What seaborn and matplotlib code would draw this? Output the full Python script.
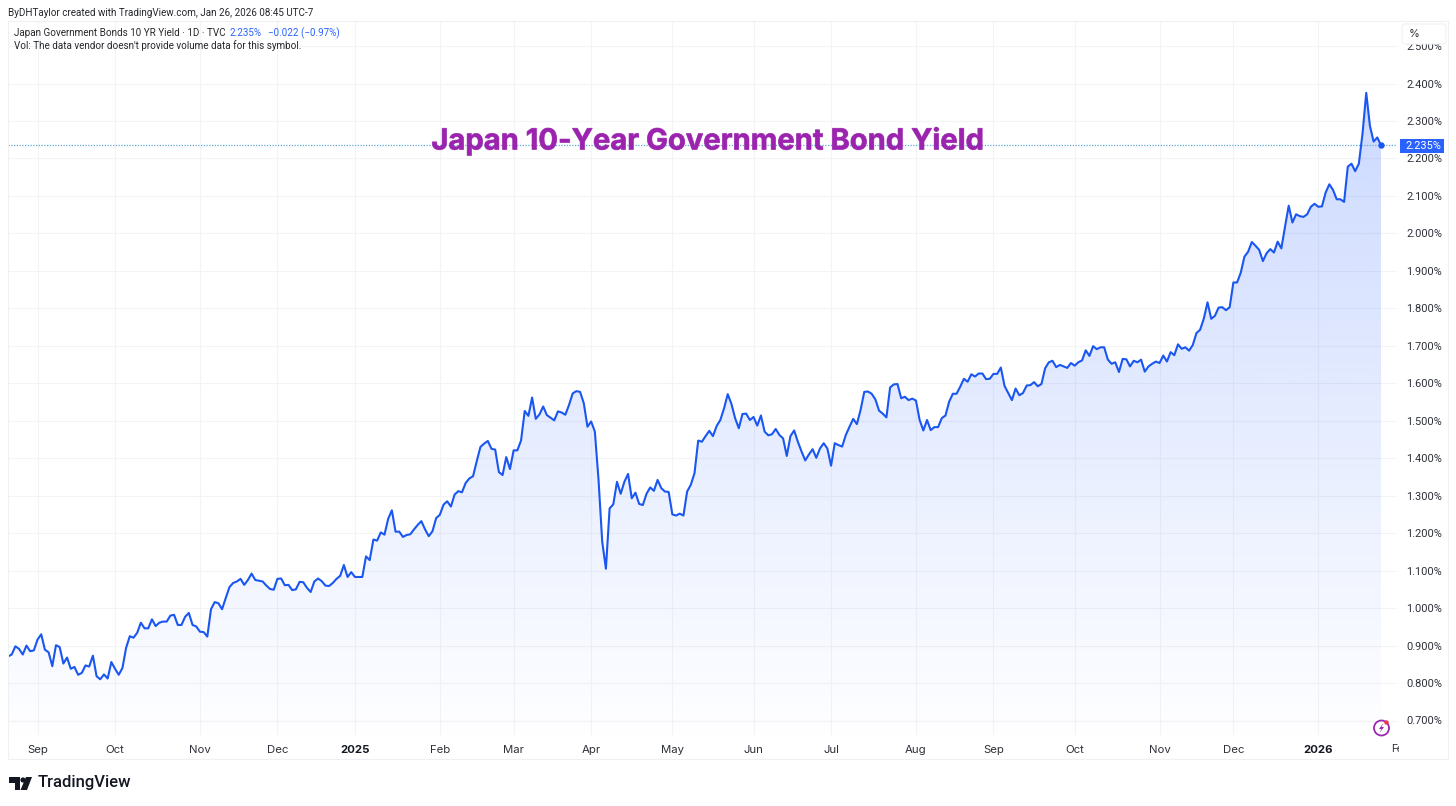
import numpy as np
import pandas as pd
import matplotlib
matplotlib.use("Agg")
import matplotlib.pyplot as plt
import matplotlib.patheffects as pe
from matplotlib.patches import Rectangle, Polygon, Circle, FancyBboxPatch
import seaborn as sns

# yield per trading day, one list per month
aug24 = [.871, .876, .898, .891, .876, .900, .885, .887]
sep24 = [.916, .930, .889, .882, .845, .901, .896, .852, .868, .838, .843, .822, .827, .847, .844, .873, .818, .810, .823, .812, .856]
oct24 = [.838, .822, .840, .894, .925, .921, .934, .961, .946, .946, .970, .952, .961, .964, .964, .980, .982, .955, .955, .977, .987, .955, .951]
nov24 = [.937, .936, .924, .997, 1.016, 1.013, .997, 1.027, 1.056, 1.067, 1.071, 1.078, 1.062, 1.075, 1.092, 1.075, 1.073, 1.071, 1.060, 1.051, 1.049]
dec24 = [1.078, 1.079, 1.061, 1.062, 1.048, 1.050, 1.070, 1.069, 1.054, 1.043, 1.071, 1.079, 1.072, 1.060, 1.059, 1.067, 1.078, 1.086, 1.115, 1.083, 1.096]
jan25 = [1.083, 1.083, 1.083, 1.138, 1.128, 1.183, 1.180, 1.202, 1.196, 1.238, 1.261, 1.204, 1.204, 1.190, 1.195, 1.197, 1.210, 1.222, 1.232, 1.210, 1.192, 1.205, 1.240]
feb25 = [1.249, 1.276, 1.285, 1.271, 1.303, 1.312, 1.309, 1.334, 1.346, 1.352, 1.392, 1.430, 1.439, 1.446, 1.425, 1.423, 1.363, 1.355, 1.403, 1.371]
mar25 = [1.421, 1.421, 1.447, 1.526, 1.513, 1.562, 1.505, 1.517, 1.538, 1.515, 1.508, 1.501, 1.525, 1.522, 1.516, 1.542, 1.573, 1.579, 1.577, 1.547, 1.484]
apr25 = [1.498, 1.471, 1.342, 1.177, 1.105, 1.266, 1.277, 1.337, 1.305, 1.337, 1.358, 1.293, 1.308, 1.278, 1.275, 1.305, 1.322, 1.313, 1.342, 1.320, 1.311, 1.310]
may25 = [1.250, 1.247, 1.252, 1.247, 1.311, 1.329, 1.360, 1.447, 1.444, 1.459, 1.473, 1.459, 1.486, 1.502, 1.533, 1.571, 1.545, 1.507, 1.480, 1.518, 1.519, 1.502]
jun25 = [1.510, 1.487, 1.514, 1.471, 1.461, 1.464, 1.478, 1.462, 1.453, 1.406, 1.459, 1.474, 1.444, 1.418, 1.394, 1.410, 1.424, 1.401, 1.426, 1.440, 1.426]
jul25 = [1.380, 1.440, 1.435, 1.431, 1.462, 1.484, 1.505, 1.491, 1.529, 1.577, 1.578, 1.572, 1.557, 1.527, 1.519, 1.509, 1.589, 1.597, 1.598, 1.560, 1.564, 1.555, 1.559]
aug25 = [1.554, 1.502, 1.474, 1.502, 1.475, 1.483, 1.483, 1.507, 1.514, 1.551, 1.572, 1.572, 1.591, 1.612, 1.604, 1.624, 1.618, 1.626, 1.626, 1.611, 1.612]
sep25 = [1.625, 1.625, 1.642, 1.593, 1.574, 1.555, 1.586, 1.568, 1.574, 1.594, 1.595, 1.603, 1.592, 1.598, 1.640, 1.656, 1.660, 1.643, 1.649, 1.645, 1.641, 1.654]
oct25 = [1.647, 1.656, 1.661, 1.688, 1.673, 1.699, 1.691, 1.696, 1.696, 1.663, 1.652, 1.656, 1.630, 1.665, 1.664, 1.645, 1.660, 1.656, 1.663, 1.631, 1.645, 1.652, 1.658]
nov25 = [1.654, 1.674, 1.658, 1.683, 1.675, 1.704, 1.692, 1.696, 1.687, 1.702, 1.734, 1.743, 1.773, 1.816, 1.772, 1.780, 1.802, 1.803, 1.795, 1.803]
dec25 = [1.869, 1.869, 1.895, 1.938, 1.951, 1.977, 1.967, 1.956, 1.926, 1.947, 1.958, 1.949, 1.978, 1.960, 2.018, 2.074, 2.029, 2.051, 2.046, 2.044, 2.051, 2.071, 2.079]
jan26 = [2.071, 2.072, 2.109, 2.131, 2.116, 2.091, 2.091, 2.084, 2.178, 2.186, 2.166, 2.186, 2.267, 2.375, 2.287, 2.245, 2.256, 2.235]

months = [aug24, sep24, oct24, nov24, dec24, jan25, feb25, mar25, apr25, may25, jun25, jul25, aug25, sep25, oct25, nov25, dec25, jan26]
month_labels = ["Sep", "Oct", "Nov", "Dec", "2025", "Feb", "Mar", "Apr", "May", "Jun", "Jul", "Aug", "Sep", "Oct", "Nov", "Dec", "2026"]
y_ticks = [0.7, 0.8, 0.9, 1.0, 1.1, 1.2, 1.3, 1.4, 1.5, 1.6, 1.7, 1.8, 1.9, 2.0, 2.1, 2.2, 2.3, 2.4, 2.5]

W, H = 1456, 806
BLUE = "#1a56f0"
GRID = "#f3f4f6"
TEXT = "#2e3138"
SMALL = "Roboto"

sns.set_theme(style="white")
plt.rcParams["font.family"] = ["Inter", "DejaVu Sans"]

yields = [v for m in months for v in m]
day = np.arange(len(yields))
df = pd.DataFrame({"day": day, "yield": yields})
month_starts = np.cumsum([len(m) for m in months])[:-1]
last = yields[-1]

fig = plt.figure(figsize=(W / 100, H / 100), dpi=100)
fig.patch.set_facecolor("white")


def px_axes(left, top, right, bottom):
    return fig.add_axes([left / W, 1 - bottom / H, (right - left) / W, (bottom - top) / H])


# main chart
ax = px_axes(8, 21, 1397, 735)
ax.set_facecolor("white")
px_per_day = (1381 - 8) / (len(yields) - 1)
x_max = (1397 - 8) / px_per_day
y_unit = (720.5 - 83.5) / 1.7
y_min = 0.7 - (735 - 720.5) / y_unit
y_max = 2.4 + (83.5 - 21) / y_unit

for m in month_starts:
    ax.axvline(m, color=GRID, lw=0.75, zorder=0)
for t in y_ticks:
    ax.axhline(t, color=GRID, lw=0.75, zorder=0)

# gradient under the line
shape = ax.fill_between(day, yields, y_min, facecolor="none", edgecolor="none")
grad = np.zeros((256, 1, 4))
grad[..., 0], grad[..., 1], grad[..., 2] = 41 / 255, 98 / 255, 1.0
grad[..., 3] = np.linspace(0.24, 0.005, 256).reshape(-1, 1)
im = ax.imshow(grad, extent=(0, len(yields), y_min, max(yields)), aspect="auto", origin="upper", zorder=1)
im.set_clip_path(shape.get_paths()[0], transform=shape.get_transform())

ax.axhline(last, color="#5fa8d8", lw=0.9, ls=(0, (1, 1.2)), zorder=2)
sns.lineplot(data=df, x="day", y="yield", ax=ax, color=BLUE, lw=1.5, zorder=3, errorbar=None)
ax.plot(day[-1], last, "o", color=BLUE, ms=3.6, zorder=4, clip_on=False)

ax.set_xlim(0, x_max)
ax.set_ylim(y_min, y_max)
ax.set_xlabel("")
ax.set_ylabel("")
ax.set_xticks(month_starts)
ax.set_xticklabels(month_labels, fontsize=8.2, color=TEXT)
for lab in ax.get_xticklabels():
    if lab.get_text() in ("2025", "2026"):
        lab.set_fontweight("bold")
        lab.set_color("#131722")
ax.tick_params(axis="x", length=0, pad=7)
ax.set_yticks(y_ticks)
ax.set_yticklabels([f"{t:.3f}%" for t in y_ticks], fontsize=7.9, color=TEXT, ha="left", family=SMALL)
ax.yaxis.tick_right()
ax.tick_params(axis="y", length=0, pad=6.5)
sns.despine(ax=ax, left=True, bottom=True, right=True, top=True)

# everything around the chart, in pixel coordinates
ov = fig.add_axes([0, 0, 1, 1], facecolor="none")
ov.set_xlim(0, W)
ov.set_ylim(H, 0)
ov.axis("off")

ov.add_patch(Rectangle((8, 21), 1440, 738, fill=False, ec="#eff0f2", lw=0.8))
ov.text(8, 12.5, "ByDHTaylor created with TradingView.com, Jan 26, 2026 08:45 UTC-7",
        fontsize=7.1, family=SMALL, color="#25272c", va="center")
ov.text(14, 33, "Japan Government Bonds 10 YR Yield · 1D · TVC", fontsize=7.1, family=SMALL, color="#25272c", va="center")
ov.text(229, 33, "2.235%", fontsize=7.1, family=SMALL, color="#2962ff", va="center")
ov.text(268, 33, "−0.022 (−0.97%)", fontsize=7.1, family=SMALL, color="#2962ff", va="center")
ov.text(14, 46, "Vol: The data vendor doesn't provide volume data for this symbol.",
        fontsize=7.1, family=SMALL, color="#25272c", va="center")

ov.text(708, 141.5, "Japan 10-Year Government Bond Yield", fontsize=21, fontweight="bold",
        color="#9c23ae", ha="center", va="center",
        path_effects=[pe.withStroke(linewidth=0.6, foreground="#b060c4")])

# unit box covers the top tick label
ov.add_patch(FancyBboxPatch((1402, 24), 44, 20, boxstyle="round,pad=0,rounding_size=3",
                            fc="white", ec="#f0f1f3", lw=0.8, zorder=5))
ov.text(1409, 34, "%", fontsize=8, color=TEXT, va="center", zorder=6)

# last price badge
ov.add_patch(Rectangle((1400, 139), 44, 13.5, fc="#2962ff", ec="none", zorder=5))
ov.text(1423.5, 145.8, f"{last:.3f}%", fontsize=7.9, family=SMALL, color="white", ha="center", va="center", zorder=6)

# clipped Feb label at the right edge of the time axis
fe = ov.text(1391, 749, "Fe", fontsize=7.6, family=SMALL, color=TEXT, va="center")
cover = Rectangle((1399, 742), 6, 14, fc="white", ec="none", zorder=4)
ov.add_patch(cover)
fe.set_zorder(3)

# TradingView logo
ov.add_patch(Polygon([(9, 777), (20, 777), (20, 790), (14.5, 790), (14.5, 782.5), (9, 782.5)], fc="#131722", ec="none"))
ov.add_patch(Circle((23, 780), 2.6, fc="#131722", ec="none"))
ov.add_patch(Polygon([(26, 777), (32, 777), (27, 790), (20.5, 790)], fc="#131722", ec="none"))
ov.text(37.5, 783, "TradingView", fontsize=12, family=SMALL, fontweight="medium", color="#131722", va="center")

# lightning badge
ov.add_patch(Circle((1381.5, 728), 7.5, fc="white", ec="#9c27b0", lw=1.3, zorder=5))
ov.add_patch(Polygon([(1383.5, 723), (1379, 729), (1381.5, 729), (1379.5, 733), (1384, 727), (1381.5, 727)],
                     fc="#9c27b0", ec="none", zorder=6))
ov.add_patch(Circle((1386.5, 722.5), 2.2, fc="#f23645", ec="none", zorder=7))

fig.savefig("out.png", dpi=100)
